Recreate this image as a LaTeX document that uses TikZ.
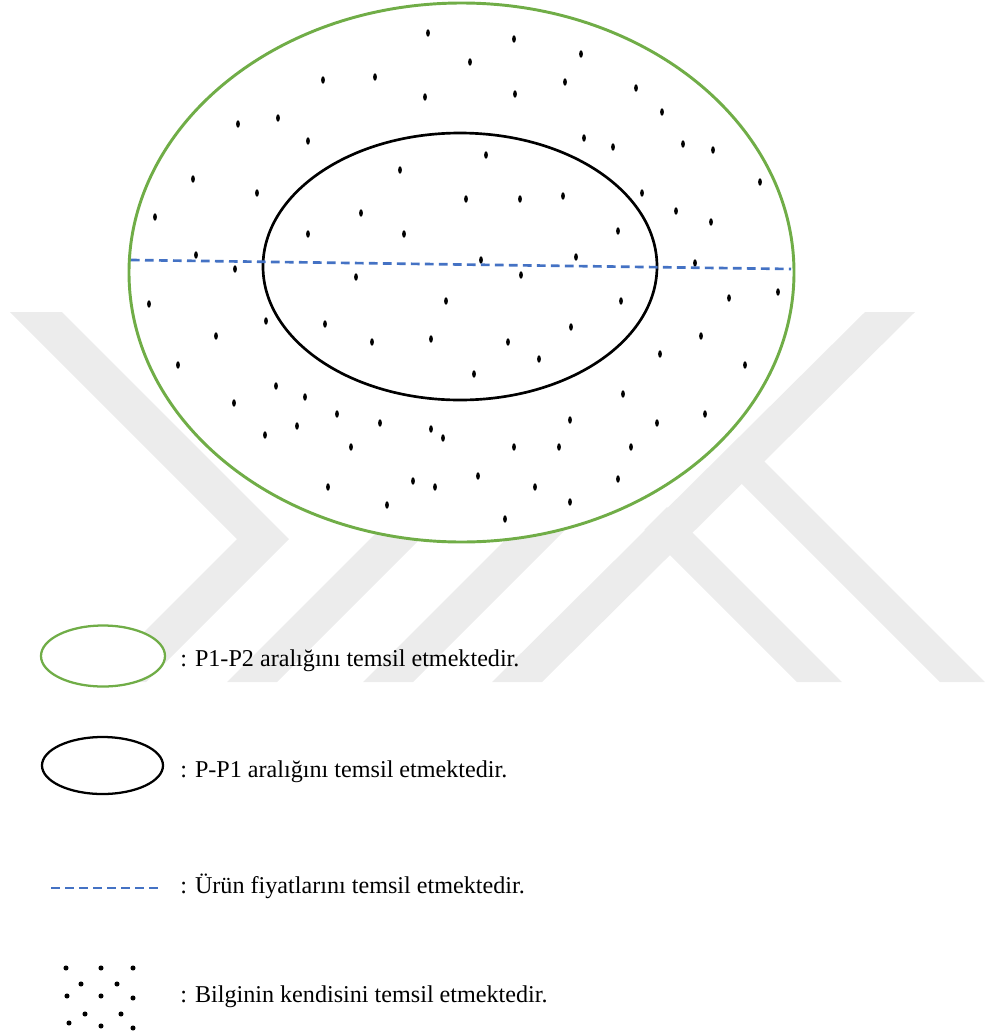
\documentclass[tikz,border=0pt]{standalone}
\usepackage{fontspec}
\setmainfont{Liberation Serif}
\definecolor{rangeGreen}{RGB}{112,173,71}
\definecolor{priceBlue}{RGB}{68,114,196}
\definecolor{markGray}{RGB}{236,236,236}
\begin{document}
\begin{tikzpicture}[x=0.75pt,y=-0.75pt,
  legendtext/.style={anchor=base west,inner sep=0pt,font=\fontsize{18.1}{21.7}\selectfont},
  pricedash/.style={draw=priceBlue,dash pattern=on 6.5pt off 4pt}]
\useasboundingbox (0,0) rectangle (985,1036);
% watermark
\fill[markGray] (10,312) -- (62,312) -- (289,539) -- (146,682) -- (94,682) -- (237,539) -- cycle;
\fill[markGray] (227,682) -- (277,682) -- (559,400) -- (509,400) -- cycle;
\fill[markGray] (363,682) -- (413,682) -- (695,400) -- (645,400) -- cycle;
\fill[markGray] (492,682) -- (542,682) -- (915,312) -- (865,312) -- cycle;
\fill[markGray] (797,682) -- (842,682) -- (667,507) -- (644.5,529.5) -- cycle;
\fill[markGray] (940,682) -- (985,682) -- (763.5,460.5) -- (741,483) -- cycle;
% ranges
\draw[rangeGreen,line width=2.2pt,fill=white] (461.5,272.5) ellipse [x radius=332.5, y radius=269.5];
\draw[line width=2pt] (460,266.5) ellipse [x radius=197, y radius=133.5];
\foreach \px/\py in {428/33,514/39,581/54,470/62,323/80,375/77,565/82,425/97,515/94,636/88,
  662/112,238/124,278/118,308/141,584/138,613/147,683/144,713/150,486/155,400/170,
  193/179,760/182,257/193,466/199,520/199,563/196,642/193,155/217,361/213,676/211,
  711/222,308/234,404/234,618/231,196/255,481/260,576/257,695/263,235/269,356/277,
  521/275,149/304,446/301,621/301,729/298,778/292,266/321,325/324,216/336,372/342,
  431/339,508/342,571/327,701/336,178/365,539/359,660/354,745/365,474/374,276/386,
  305/397,234/403,337/414,380/423,297/426,265/435,431/429,443/438,351/447,514/447,
  559/447,631/447,623/394,570/420,705/414,657/423,328/487,413/481,435/487,478/476,
  535/487,618/479,387/505,570/502,505/519}
  \fill (\px,\py) ellipse [x radius=1.4pt, y radius=2.8pt];
\coordinate (priceL) at (131,260);
\coordinate (priceR) at (791,269);
\draw[pricedash,line width=2pt] (priceL) -- (priceR);
% legend
\draw[rangeGreen,line width=1.7pt,fill=white] (103,656) ellipse [x radius=62, y radius=30.5];
\node[legendtext] (legGreen) at (180,666) {: P1-P2 aralığını temsil etmektedir.};
\draw[line width=1.7pt,fill=white] (102.5,765.5) ellipse [x radius=60.5, y radius=28.5];
\node[legendtext] (legBlack) at (180,777) {: P-P1 aralığını temsil etmektedir.};
\coordinate (dashL) at (51,888);
\coordinate (dashR) at (158,888);
\draw[pricedash,line width=1.4pt] (dashL) -- (dashR);
\node[legendtext] (legPrice) at (180,893) {: Ürün fiyatlarını temsil etmektedir.};
\foreach \px/\py in {66/968,101/968,133/968,81/984,117/984,67/996,101/996,133/998,
  85/1014,121/1014,69/1023,101/1026,133/1028}
  \fill (\px,\py) circle [radius=1.9pt];
\node[legendtext] (legInfo) at (180,1002) {: Bilginin kendisini temsil etmektedir.};
\end{tikzpicture}
\end{document}
